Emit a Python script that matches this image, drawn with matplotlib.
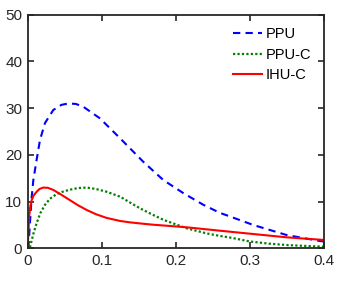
import matplotlib
matplotlib.use("Agg")
import matplotlib.pyplot as plt

plt.rcParams['font.family'] = ['Liberation Sans', 'DejaVu Sans']

ppu_x = [0.001, 0.003, 0.0054, 0.0076, 0.012, 0.0166, 0.0233, 0.0345, 0.0455, 0.0548, 0.065, 0.075, 0.0975,
         0.1246, 0.156, 0.183, 0.21, 0.237, 0.259, 0.273, 0.304, 0.349, 0.394, 0.4]
ppu_y = [0, 5.3, 11.0, 14.6, 18.9, 23.2, 26.8, 29.6, 30.7, 31.0, 30.9, 30.3, 27.8,
         23.55, 18.5, 14.6, 11.8, 9.3, 7.6, 6.8, 5.0, 2.85, 1.56, 1.45]

ppuc_x = [0.003, 0.008, 0.012, 0.017, 0.0233, 0.030, 0.039, 0.047, 0.057, 0.068, 0.0796, 0.092, 0.1065,
          0.1246, 0.138, 0.151, 0.167, 0.183, 0.214, 0.241, 0.259, 0.273, 0.30, 0.325, 0.349, 0.375, 0.4]
ppuc_y = [0.2, 3.3, 5.35, 7.5, 9.3, 10.6, 11.6, 12.1, 12.55, 12.9, 13.0, 12.7, 12.1,
          11.05, 9.8, 8.6, 7.3, 6.1, 4.3, 3.2, 2.65, 2.3, 1.45, 1.0, 0.7, 0.5, 0.35]

ihuc_x = [0, 0.001, 0.002, 0.0035, 0.0054, 0.008, 0.012, 0.016, 0.021, 0.027, 0.0345, 0.045, 0.057, 0.068,
          0.0796, 0.092, 0.1065, 0.1246, 0.138, 0.153, 0.169, 0.19, 0.214, 0.259, 0.304, 0.349, 0.4]
ihuc_y = [0, 3.5, 6.8, 9.0, 10.3, 11.3, 12.1, 12.7, 13.0, 12.95, 12.5, 11.5, 10.3, 9.2,
          8.2, 7.3, 6.5, 5.85, 5.55, 5.3, 5.05, 4.8, 4.5, 3.77, 3.06, 2.35, 1.78]

x_ticks = [0, 0.1, 0.2, 0.3, 0.4]
x_tick_labels = ['0', '0.1', '0.2', '0.3', '0.4']
y_ticks = [0, 10, 20, 30, 40, 50]

fig = plt.figure(figsize=(3.41, 2.90), dpi=100)
ax = fig.add_axes([0.0812, 0.1438, 0.8698, 0.8055])

ax.plot(ppu_x, ppu_y, color=(0, 0, 1), ls=(0, (3.5, 2.5)), lw=1.5, label='PPU')
ax.plot(ppuc_x, ppuc_y, color=(0, 0.5, 0), ls=(0, (1, 1)), lw=1.6, label='PPU-C')
ax.plot(ihuc_x, ihuc_y, color=(1, 0, 0), ls='-', lw=1.5, label='IHU-C')

ax.set_xlim(0, 0.4)
ax.set_ylim(0, 50)
ax.set_xticks(x_ticks)
ax.set_xticklabels(x_tick_labels)
ax.set_yticks(y_ticks)
ax.tick_params(direction='in', top=True, right=True, length=4, width=1.2,
               colors='#262626', labelsize=11, pad=4)
for s in ax.spines.values():
    s.set_linewidth(1.3)
    s.set_color('#262626')

leg = ax.legend(loc='upper right', frameon=False, fontsize=10.5,
                handlelength=2.0, handletextpad=0.25, labelspacing=0.45,
                borderaxespad=0.3, bbox_to_anchor=(0.99, 0.99))

fig.savefig('out.png', dpi=100)
